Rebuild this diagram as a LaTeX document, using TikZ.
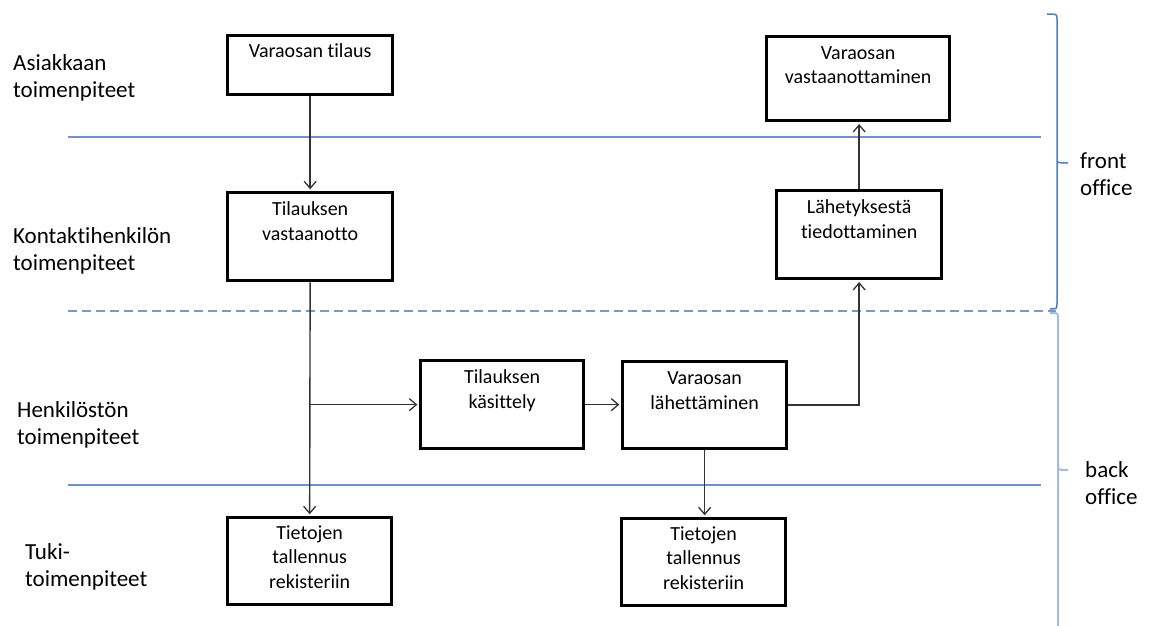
\documentclass[tikz,border=0pt]{standalone}
\usepackage{fontspec}
\setmainfont{Carlito}[Ligatures=NoCommon]
\usetikzlibrary{arrows.meta}
\definecolor{sepblue}{HTML}{6F93C8}
\definecolor{dashblue}{HTML}{7F98BF}
\definecolor{bracedark}{HTML}{4F7FC0}
\definecolor{bracelight}{HTML}{A3BDE0}
\definecolor{arrgrey}{HTML}{333333}
\tikzset{
  box/.style={draw=black, line width=3.3pt, inner sep=0pt, anchor=north west, fill=white},
  boxtext/.style={align=center, anchor=base, inner sep=0pt, font=\fontsize{20}{24.3}\selectfont},
  lanelabel/.style={align=left, anchor=base west, inner sep=0pt, font=\fontsize{23}{27}\selectfont},
  arr/.style={draw=arrgrey, line width=1.4pt, -{Straight Barb[length=7pt,width=12pt,line width=1.3pt]}, shorten >=1.7pt},
  sepline/.style={draw=sepblue, line width=1.3pt},
}
\begin{document}
\begin{tikzpicture}[x=1pt,y=-1pt]
\useasboundingbox[fill=white] (0,0) rectangle (1149,626);

% separators
\draw[sepline] (68,137) -- (1041,137);
\draw[sepline] (68,485) -- (1041,485);
\draw[draw=dashblue, line width=1.3pt, dash pattern=on 9pt off 5pt] (68,311) -- (1056,311);

% braces
\draw[draw=bracedark, line width=1.5pt, line join=round]
  (1047,14) .. controls (1057,14) .. (1057,19) -- (1057,158)
  .. controls (1057,163) .. (1068,163)
  (1057,158) .. controls (1057,163) .. (1057,168) -- (1057,303)
  .. controls (1057,309) .. (1050,309);
\draw[draw=bracelight, line width=2pt, line join=round]
  (1050,313) .. controls (1058,313) .. (1058,318) -- (1058,465)
  .. controls (1058,470) .. (1068,470)
  (1058,465) .. controls (1058,470) .. (1058,475) -- (1058,626);

\node[lanelabel] (fo) at (1080,195) {front\\office};
\node[lanelabel] (bo) at (1085,504) {back\\office};

% lane labels (anchor = baseline of last line)
\node[lanelabel] (l1) at (13,97) {Asiakkaan\\toimenpiteet};
\node[lanelabel] (l2) at (13,270) {Kontaktihenkilön\\toimenpiteet};
\node[lanelabel] (l3) at (17,444) {Henkilöstön\\toimenpiteet};
\node[lanelabel] (l4) at (25,586) {Tuki-\\toimenpiteet};

% boxes
\node[box, minimum width=165pt, minimum height=59pt] (b1) at (226,34) {};
\node[box, minimum width=165pt, minimum height=88pt] (b2) at (226,191) {};
\node[box, minimum width=183pt, minimum height=84pt] (b3) at (765,35) {};
\node[box, minimum width=165pt, minimum height=88pt] (b4) at (775,189) {};
\node[box, minimum width=163pt, minimum height=88pt] (b5) at (419,359) {};
\node[box, minimum width=164pt, minimum height=87pt] (b6) at (621,360) {};
\node[box, minimum width=164pt, minimum height=87pt] (b7) at (226,516) {};
\node[box, minimum width=164pt, minimum height=87pt] (b8) at (620,517) {};

\node[boxtext] (t1) at ([yshift=-24pt]b1.north) {Varaosan tilaus};
\node[boxtext] (t2) at ([yshift=-49pt]b2.north) {Tilauksen\\vastaanotto};
\node[boxtext] (t3) at ([yshift=-49pt]b3.north) {Varaosan\\vastaanottaminen};
\node[boxtext] (t4) at ([yshift=-49pt]b4.north) {Lähetyksestä\\tiedottaminen};
\node[boxtext] (t5) at ([yshift=-49pt]b5.north) {Tilauksen\\käsittely};
\node[boxtext] (t6) at ([yshift=-49pt]b6.north) {Varaosan\\lähettäminen};
\node[boxtext] (t7) at ([yshift=-72pt]b7.north) {Tietojen\\tallennus\\rekisteriin};
\node[boxtext] (t8) at ([yshift=-72pt]b8.north) {Tietojen\\tallennus\\rekisteriin};

% connectors
\coordinate (j) at (b2.south |- b5.west);
\draw[arr] (b1.south) -- (b2.north);
\draw[arr] (b2.south) -- (b7.north);
\draw[arr] (j) -- (b5.west);
\draw[arr] (b5.east) -- (b6.west |- b5.east);
\draw[arr] (b6.east) -| (b4.south);
\draw[arr] (b4.north) -- (b4.north |- b3.south);
\draw[arr] (b6.south) -- (b6.south |- b8.north);
\end{tikzpicture}
\end{document}
